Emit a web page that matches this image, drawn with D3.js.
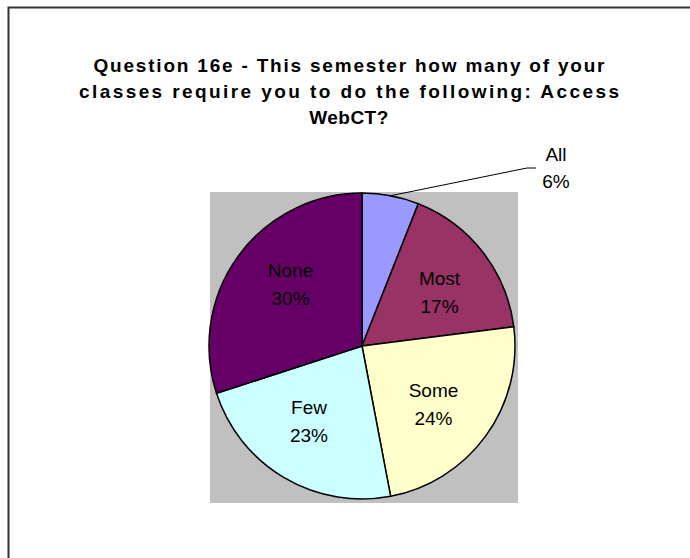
<!DOCTYPE html>
<html lang="en">
<head>
<meta charset="UTF-8">
<title>Question 16e - Access WebCT</title>
<script src="https://d3js.org/d3.v7.min.js"></script>
<style>
    body { margin: 0; background: #fff; font-family: "Liberation Sans", Arial, sans-serif; }
    .title { font-weight: bold; font-size: 19px; fill: #000; text-anchor: middle; }
    .slice-label { font-size: 19px; fill: #000; text-anchor: middle; }
</style>
</head>
<body>
<svg width="690" height="558"></svg>
<script>
    const categories = ["All", "Most", "Some", "Few", "None"];
    const values = [6, 17, 24, 23, 30];
    const colors = ["#9999FF", "#993366", "#FFFFCC", "#CCFFFF", "#660066"];
    const titleLines = [
        "Question 16e - This semester how many of your",
        "classes require you to do the following: Access",
        "WebCT?"
    ];

    const svg = d3.select("svg");

    // chart frame (runs past the right and bottom edge of the picture)
    svg.append("rect")
        .attr("x", 8.5).attr("y", 7.5)
        .attr("width", 720).attr("height", 600)
        .attr("fill", "#fff")
        .attr("stroke", "#333").attr("stroke-width", 2);

    // title
    const titleX = 349;
    const titleY = [72, 98, 124];
    const titleWidth = [511, 540, null];
    titleLines.forEach((t, i) => {
        const txt = svg.append("text")
            .attr("class", "title")
            .attr("x", titleX)
            .attr("y", titleY[i])
            .text(t);
        if (titleWidth[i]) txt.attr("textLength", titleWidth[i]).attr("lengthAdjust", "spacing");
        else txt.attr("letter-spacing", "0.5px");
    });

    // plot area
    const plot = { x: 210, y: 192, w: 308, h: 311 };
    svg.append("rect")
        .attr("x", plot.x).attr("y", plot.y)
        .attr("width", plot.w).attr("height", plot.h)
        .attr("fill", "#C0C0C0");

    const cx = 362, cy = 346, r = 153;
    const g = svg.append("g").attr("transform", `translate(${cx},${cy})`);

    const pie = d3.pie().sort(null).value(d => d.value);
    const data = pie(categories.map((c, i) => ({ name: c, value: values[i], color: colors[i] })));
    const arc = d3.arc().innerRadius(0).outerRadius(r);

    g.selectAll("path")
        .data(data)
        .enter().append("path")
        .attr("d", arc)
        .attr("fill", d => d.data.color)
        .attr("stroke", "#000")
        .attr("stroke-width", 1.5)
        .attr("stroke-linejoin", "round");

    // labels inside the slices, a bit past the centroid clockwise like Excel places them
    const labelR = r * 0.61;
    const inside = data.filter(d => d.data.name !== "All");
    inside.forEach(d => {
        const a = (d.startAngle + d.endAngle) / 2 + 0.07;
        const lx = Math.sin(a) * labelR;
        const ly = -Math.cos(a) * labelR;
        const t = g.append("text")
            .attr("class", "slice-label")
            .attr("x", lx)
            .attr("y", ly - 9);
        t.append("tspan").attr("x", lx).attr("dy", 0).text(d.data.name);
        t.append("tspan").attr("x", lx).attr("dy", 28).text(d.data.value + "%");
    });

    // outside label with leader line for the small slice
    const small = data[0];
    const mid = (small.startAngle + small.endAngle) / 2;
    const edge = [Math.sin(mid) * r, -Math.cos(mid) * r];
    const elbow = [527 - cx, 168 - cy];
    g.append("polyline")
        .attr("points", [edge, elbow, [elbow[0] + 9, elbow[1]]].map(p => p.join(",")).join(" "))
        .attr("fill", "none")
        .attr("stroke", "#000")
        .attr("stroke-width", 1);
    const ot = g.append("text").attr("class", "slice-label")
        .attr("x", 556 - cx).attr("y", 161 - cy);
    ot.append("tspan").attr("x", 556 - cx).attr("dy", 0).text(small.data.name);
    ot.append("tspan").attr("x", 556 - cx).attr("dy", 27).text(small.data.value + "%");
</script>
</body>
</html>
